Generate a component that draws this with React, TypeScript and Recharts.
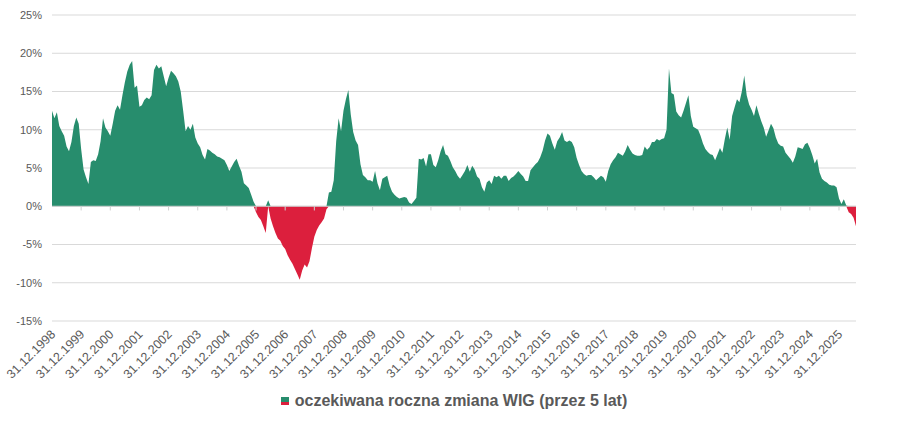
import { AreaChart, Area, XAxis, YAxis, CartesianGrid, ReferenceLine } from "recharts";

// monthly readings, Dec 1998 -> Jul 2026 (in %)
const START_YEAR = 1998;
const VALUES = [
  12.5, 11.5, 12.3, 10.5, 9.8, 9.2, 7.8, 7.2, 8.4, 10.5, 11.6, 10.8,
  7.5, 4.8, 3.8, 2.9, 5.8, 6.0, 5.9, 6.8, 8.5, 11.5, 10.3, 9.8,
  9.2, 10.8, 12.5, 13.2, 12.6, 14.5, 16.2, 17.6, 18.5, 19.0, 15.5, 15.8,
  13.0, 13.2, 13.9, 14.2, 14.0, 14.5, 17.8, 18.5, 18.0, 18.3, 17.0, 15.7,
  16.8, 17.7, 17.4, 17.0, 16.3, 15.0, 12.5, 9.8, 10.5, 10.0, 10.8, 9.0,
  8.2, 7.7, 6.7, 6.1, 7.5, 7.3, 7.0, 6.8, 6.5, 6.4, 6.2, 6.0,
  5.4, 4.6, 5.2, 5.8, 6.2, 5.3, 4.5, 3.0, 2.7, 2.4, 1.5, 0.6,
  -0.8, -1.4, -1.8, -2.6, -3.5, 0.8, -1.6, -2.6, -3.5, -4.2, -4.5, -5.2,
  -5.6, -6.4, -7.0, -7.5, -8.2, -8.9, -9.6, -8.4, -7.6, -8.0, -7.2, -5.5,
  -4.0, -3.1, -2.5, -2.1, -1.6, -0.4, 1.8, 1.9, 3.4, 8.5, 11.5, 9.8,
  12.5, 14.0, 15.2, 12.0, 9.7, 8.6, 8.0, 5.5, 4.1, 3.8, 3.4, 3.4,
  3.2, 4.6, 3.0, 2.1, 3.6, 3.8, 4.0, 2.7, 1.9, 1.5, 1.2, 1.0,
  1.1, 1.2, 1.1, 0.5, 0.3, 0.7, 1.1, 6.2, 6.1, 6.3, 5.2, 6.8,
  6.8, 5.4, 5.1, 6.0, 7.2, 8.0, 6.8, 6.6, 5.9, 5.1, 4.6, 4.0,
  3.6, 4.1, 4.6, 5.4, 4.5, 5.3, 4.8, 3.9, 3.6, 2.5, 1.9, 3.1,
  3.4, 2.9, 4.0, 3.8, 4.0, 3.6, 4.0, 4.0, 3.3, 3.7, 3.9, 4.2,
  4.6, 4.2, 3.9, 3.3, 3.3, 4.7, 5.1, 5.5, 5.8, 6.4, 7.3, 8.6,
  9.5, 9.2, 8.2, 7.4, 8.5, 9.0, 9.7, 8.6, 8.4, 8.6, 8.4, 7.7,
  6.3, 5.4, 4.6, 4.2, 4.0, 4.1, 4.1, 3.8, 3.4, 3.7, 4.0, 3.8,
  3.2, 4.6, 5.5, 6.0, 6.4, 7.0, 6.8, 6.6, 7.2, 8.0, 7.4, 6.9,
  6.7, 6.6, 6.6, 6.7, 7.8, 7.4, 7.7, 8.4, 8.4, 8.8, 8.6, 8.8,
  8.9, 10.0, 18.0, 14.8, 14.6, 12.4, 11.9, 11.6, 12.5, 13.5, 14.5, 11.8,
  10.4, 10.2, 10.0, 9.2, 8.2, 7.5, 7.1, 6.8, 6.7, 6.0, 6.8, 7.6,
  7.0, 8.8, 10.3, 8.7, 11.8, 12.9, 14.0, 13.6, 15.0, 17.1, 14.5, 13.3,
  12.6, 11.8, 13.2, 12.1, 11.1, 10.3, 9.1, 9.9, 10.8, 10.2, 9.0, 8.2,
  7.9, 7.8, 7.0, 6.6, 6.2, 5.7, 6.5, 7.7, 7.6, 7.5, 8.1, 8.3,
  7.6, 6.7, 5.6, 6.2, 4.4, 3.6, 3.3, 3.1, 2.8, 2.7, 2.7, 2.5,
  1.0, 0.3, 0.9, 0.1, -0.8, -1.0, -1.5, -2.6,
];

const TICK_YEARS = [
  1998, 1999, 2000, 2001, 2002, 2003, 2004, 2005, 2006, 2007, 2008, 2009, 2010, 2011,
  2012, 2013, 2014, 2015, 2016, 2017, 2018, 2019, 2020, 2021, 2022, 2023, 2024, 2025,
];
const Y_TICKS = [-15, -10, -5, 0, 5, 10, 15, 20, 25];
const SERIES_NAME = "oczekiwana roczna zmiana WIG (przez 5 lat)";

const GREEN = "#278d6d";
const RED = "#dc1f3d";
const TEXT = "#595959";

function monthKey(i: number) {
  const m = 11 + i;
  const year = START_YEAR + Math.floor(m / 12);
  const month = (m % 12) + 1;
  return `${year}-${String(month).padStart(2, "0")}`;
}

const data = VALUES.map((v, i) => ({
  month: monthKey(i),
  pos: v >= 0 ? v : 0,
  neg: v < 0 ? v : 0,
}));

const xTicks = TICK_YEARS.map((y) => `${y}-12`);

function XTick({ x, y, payload }: any) {
  const year = String(payload.value).slice(0, 4);
  return (
    <g transform={`translate(${x + 1},${y + 9})`}>
      <text
        transform="rotate(-45)"
        textAnchor="end"
        dy="0.35em"
        fontSize={12.5}
        fill={TEXT}
        fontFamily="'Liberation Sans', Arial, sans-serif"
      >
        {`31.12.${year}`}
      </text>
    </g>
  );
}

export default function App() {
  return (
    <div style={{ position: "absolute", left: 0, top: 0, width: 902, height: 423, background: "#fff" }}>
      <AreaChart
        width={902}
        height={423}
        data={data}
        margin={{ top: 15, right: 46, left: 0, bottom: 0 }}
      >
        <CartesianGrid vertical={false} stroke="#d9d9d9" />
        <XAxis
          dataKey="month"
          ticks={xTicks}
          interval={0}
          axisLine={false}
          tickLine={false}
          tickSize={0}
          height={102}
          tick={<XTick />}
        />
        <YAxis
          domain={[-15, 25]}
          ticks={Y_TICKS}
          width={52}
          axisLine={false}
          tickLine={false}
          tickMargin={4}
          tickFormatter={(v) => `${v}%`}
          tick={{ fontSize: 11, fill: TEXT, fontFamily: "'Liberation Sans', Arial, sans-serif" }}
        />
        <Area
          dataKey="pos"
          type="linear"
          stroke="none"
          fill={GREEN}
          fillOpacity={1}
          baseValue={0}
          isAnimationActive={false}
        />
        <Area
          dataKey="neg"
          type="linear"
          stroke="none"
          fill={RED}
          fillOpacity={1}
          baseValue={0}
          isAnimationActive={false}
        />
        <ReferenceLine y={0} stroke="#d0d0d0" />
        {xTicks.map((k) => (
          <ReferenceLine
            key={k}
            segment={[
              { x: k, y: 0 },
              { x: k, y: -0.55 },
            ]}
            stroke="#d0d0d0"
          />
        ))}
      </AreaChart>
      <div
        style={{
          position: "absolute",
          left: 0,
          top: 392,
          width: 902,
          display: "flex",
          justifyContent: "center",
          alignItems: "center",
          fontFamily: "'Liberation Sans', Arial, sans-serif",
          fontWeight: "bold",
          fontSize: 16,
          color: TEXT,
        }}
      >
        <svg width={8} height={8} style={{ marginRight: 6, marginLeft: 6 }}>
          <rect x={0} y={0} width={8} height={5} fill={GREEN} />
          <rect x={0} y={5} width={8} height={3} fill={RED} />
        </svg>
        <span>{SERIES_NAME}</span>
      </div>
    </div>
  );
}
